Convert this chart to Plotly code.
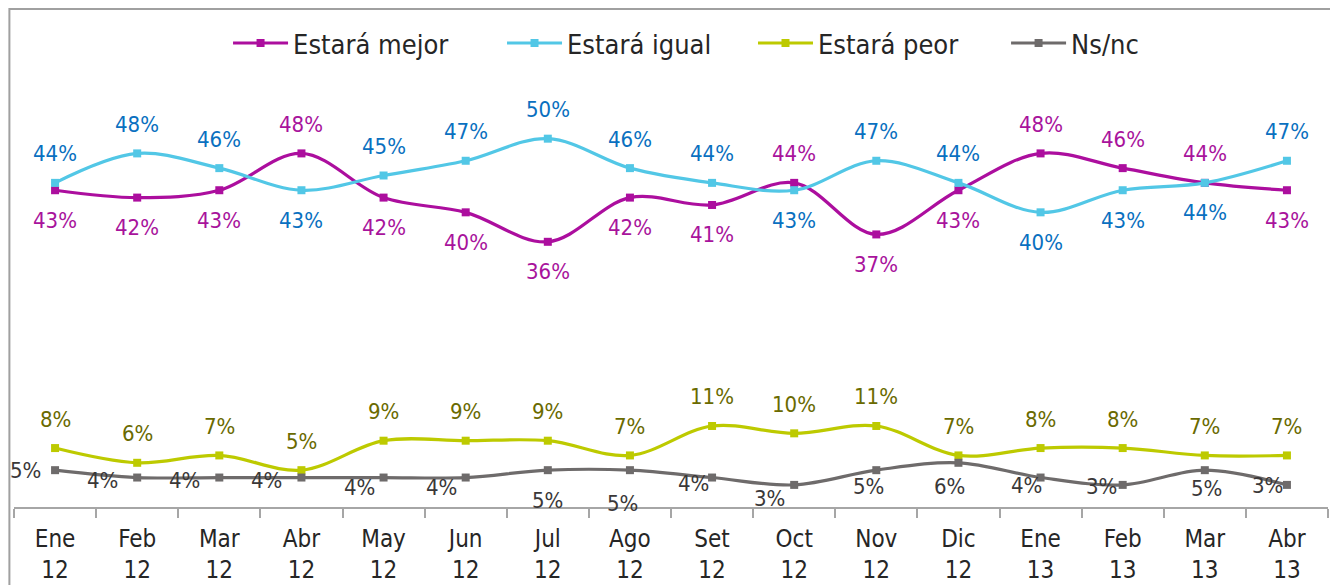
import plotly.graph_objects as go

# categories (month / year)
months = ["Ene", "Feb", "Mar", "Abr", "May", "Jun", "Jul", "Ago",
          "Set", "Oct", "Nov", "Dic", "Ene", "Feb", "Mar", "Abr"]
years = ["12"] * 12 + ["13"] * 4
categories = [f"{m}<br>{y}" for m, y in zip(months, years)]

# series values (%)
mejor = [43, 42, 43, 48, 42, 40, 36, 42, 41, 44, 37, 43, 48, 46, 44, 43]
igual = [44, 48, 46, 43, 45, 47, 50, 46, 44, 43, 47, 44, 40, 43, 44, 47]
peor = [8, 6, 7, 5, 9, 9, 9, 7, 11, 10, 11, 7, 8, 8, 7, 7]
nsnc = [5, 4, 4, 4, 4, 4, 5, 5, 4, 3, 5, 6, 4, 3, 5, 3]

FONT = "DejaVu Sans Condensed, DejaVu Sans"

series = [
    ("Estará mejor", mejor, "#AC0E9E", "#A8139C"),
    ("Estará igual", igual, "#52C7E6", "#0A70C0"),
    ("Estará peor", peor, "#BDCA00", "#6A6A00"),
    ("Ns/nc", nsnc, "#6E6B6B", "#3A3838"),
]

# label placement (pixel offsets dx, dy ; dy positive = up)
up, down = 29, -30
mejor_off = [(0, up) if m > i else (0, down) for m, i in zip(mejor, igual)]
mejor_off[14] = (0, up)
igual_off = [(0, down) if m > i else (0, up) for m, i in zip(mejor, igual)]
igual_off[14] = (0, down)
peor_off = [(0, up)] * len(peor)
nsnc_off = [(-30, 0), (-35, -3), (-35, -3), (-35, -3), (-24, -10), (-24, -10),
            (0, -30), (-7, -33), (-19, -6), (-25, -14), (-8, -16), (-9, -24),
            (-14, -8), (-21, -2), (2, -18), (-19, -1)]
offsets = [mejor_off, igual_off, peor_off, nsnc_off]

legend_x = [0.1629, 0.3714, 0.5624, 0.755]

fig = go.Figure()
annotations = []
for k, ((name, vals, lc, tc), offs) in enumerate(zip(series, offsets)):
    lg = "legend" if k == 0 else f"legend{k + 1}"
    fig.add_trace(go.Scatter(
        x=categories, y=vals, name=name, mode="lines+markers",
        line=dict(color=lc, width=3.2, shape="spline", smoothing=1),
        marker=dict(symbol="square", size=8, color=lc),
        legend=lg,
    ))
    for c, v, (dx, dy) in zip(categories, vals, offs):
        annotations.append(dict(
            x=c, y=v, xref="x", yref="y", text=f"{v}%", showarrow=False,
            xshift=dx, yshift=dy, font=dict(family=FONT, size=22, color=tc),
        ))

legends = {}
for k, lx in enumerate(legend_x):
    key = "legend" if k == 0 else f"legend{k + 1}"
    legends[key] = dict(
        x=lx, y=0.981, xref="paper", yref="container", xanchor="left", yanchor="top",
        orientation="h", bgcolor="rgba(0,0,0,0)", itemwidth=55,
        font=dict(family=FONT, size=27, color="#262626"),
    )

# the page adds an 8px body margin, so the figure is sized to fit inside it
fig.update_layout(
    width=1330, height=577,
    margin=dict(l=6, r=10, t=57, b=78, autoexpand=False),
    paper_bgcolor="white", plot_bgcolor="white",
    showlegend=True,
    annotations=annotations,
    xaxis=dict(
        type="category", range=[-0.5, 15.5], automargin=False,
        showline=True, linecolor="#A6A6A6", linewidth=2,
        ticks="outside", tickson="boundaries", ticklen=9, tickcolor="#A6A6A6", tickwidth=2,
        tickfont=dict(family=FONT, size=24, color="#262626"),
        ticklabelstandoff=9,
        showgrid=False, zeroline=False,
    ),
    yaxis=dict(range=[0, 60], visible=False, showgrid=False),
    shapes=[dict(
        type="rect", xref="paper", yref="paper",
        x0=-0.0035, x1=1.0046, y0=-0.3, y1=1.1267,
        line=dict(color="#A0A0A0", width=2), fillcolor="rgba(0,0,0,0)", layer="below",
    )],
    **legends,
)

fig.write_html("out.html")
